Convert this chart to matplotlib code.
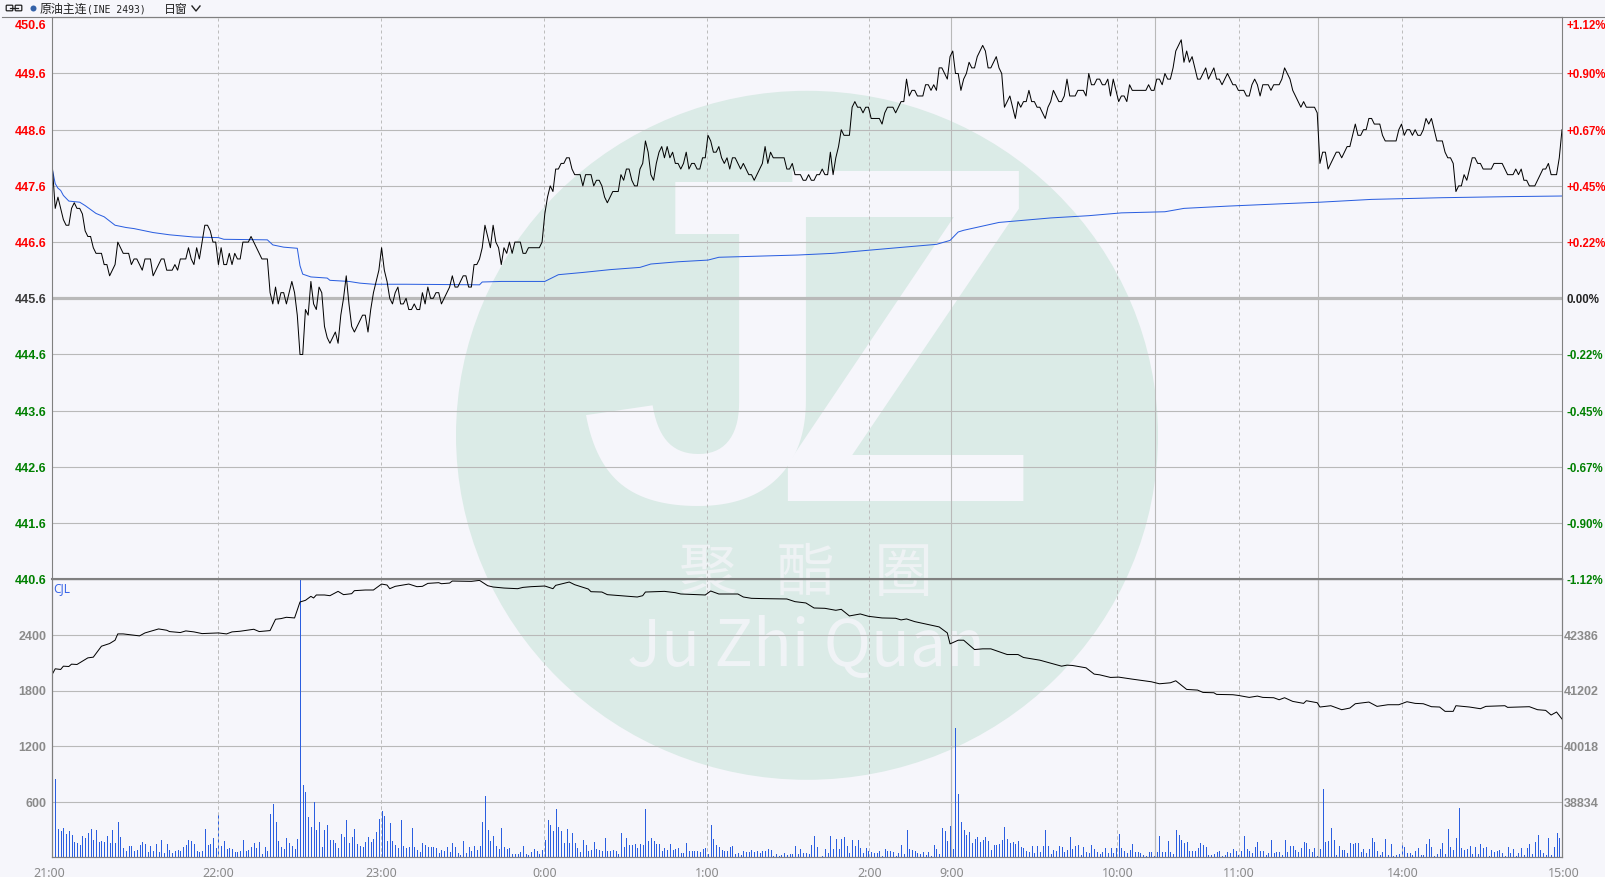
import numpy as np
import matplotlib
matplotlib.use('Agg')
import matplotlib.pyplot as plt
from matplotlib.patches import Circle, Ellipse, FancyBboxPatch
from matplotlib.transforms import ScaledTranslation

# last price per bar
price = [447.9,447.2,447.4,447.2,447.0,446.9,446.9,447.2,447.3,447.2,
         447.2,447.1,446.8,446.7,446.7,446.5,446.4,446.4,446.4,446.2,
         446.2,446.0,446.1,446.2,446.6,446.5,446.4,446.4,446.4,446.2,
         446.3,446.3,446.2,446.1,446.3,446.3,446.3,446.0,446.1,446.2,
         446.3,446.3,446.1,446.1,446.1,446.2,446.1,446.3,446.3,446.3,
         446.5,446.3,446.2,446.5,446.3,446.6,446.9,446.9,446.8,446.6,
         446.6,446.2,446.5,446.2,446.2,446.4,446.2,446.4,446.3,446.3,
         446.6,446.6,446.6,446.7,446.6,446.5,446.4,446.3,446.3,446.3,
         445.7,445.5,445.8,445.5,445.7,445.7,445.5,445.7,445.9,445.7,
         445.3,444.6,444.6,445.4,445.3,445.9,445.5,445.4,445.8,445.7,
         445.1,444.9,444.8,444.9,445.0,444.8,445.3,445.6,446.0,445.5,
         445.1,445.0,445.1,445.2,445.3,445.3,445.0,445.4,445.7,445.9,
         446.1,446.5,446.1,445.9,445.6,445.5,445.7,445.8,445.5,445.5,
         445.6,445.4,445.4,445.5,445.4,445.4,445.7,445.5,445.8,445.6,
         445.6,445.7,445.7,445.5,445.6,445.7,445.8,446.0,445.8,445.8,
         445.9,446.0,446.0,445.8,445.8,446.2,446.2,446.3,446.5,446.9,
         446.7,446.5,446.9,446.6,446.5,446.2,446.5,446.4,446.6,446.4,
         446.6,446.6,446.6,446.4,446.4,446.5,446.5,446.5,446.5,446.5,
         446.6,447.1,447.4,447.6,447.5,447.9,447.9,448.0,448.0,448.1,
         448.1,447.9,447.8,447.8,447.8,447.6,447.8,447.8,447.8,447.6,
         447.7,447.7,447.6,447.4,447.3,447.4,447.5,447.5,447.5,447.8,
         447.7,447.9,447.9,447.7,447.6,447.6,447.9,448.0,448.4,448.2,
         447.8,447.7,448.0,448.2,448.3,448.1,448.3,448.1,448.2,448.0,
         448.0,447.9,448.0,448.2,447.9,448.0,448.0,447.9,447.9,448.1,
         448.1,448.5,448.4,448.2,448.2,448.3,448.1,448.0,448.1,447.9,
         448.1,448.1,448.0,447.9,448.0,447.9,447.8,447.8,447.7,447.8,
         447.9,448.0,448.3,448.0,448.2,448.1,448.1,448.1,448.1,448.1,
         447.9,447.9,448.0,447.8,447.8,447.8,447.7,447.7,447.8,447.7,
         447.7,447.8,447.8,447.9,447.8,447.8,448.2,447.8,448.1,448.3,
         448.6,448.5,448.5,448.5,449.0,449.1,449.0,449.0,448.9,449.0,
         449.0,448.8,448.8,448.8,448.8,448.7,448.9,449.0,449.0,449.0,
         448.9,449.0,449.1,449.1,449.5,449.2,449.3,449.3,449.2,449.2,
         449.2,449.4,449.4,449.3,449.4,449.3,449.7,449.7,449.6,449.5,
         449.9,450.0,449.6,449.6,449.3,449.5,449.6,449.8,449.7,449.7,
         449.9,450.0,450.1,450.0,449.7,449.7,449.8,449.9,449.7,449.6,
         449.0,449.1,449.2,449.0,448.8,449.1,449.0,449.1,449.1,449.3,
         449.1,449.1,449.0,449.0,448.9,448.8,449.0,449.1,449.3,449.2,
         449.1,449.1,449.2,449.5,449.2,449.2,449.2,449.3,449.3,449.3,
         449.2,449.6,449.4,449.4,449.5,449.5,449.4,449.4,449.5,449.2,
         449.5,449.3,449.1,449.2,449.2,449.1,449.4,449.3,449.3,449.3,
         449.3,449.3,449.3,449.4,449.3,449.3,449.5,449.5,449.4,449.6,
         449.5,449.5,449.7,450.0,450.1,450.2,449.8,450.0,449.8,449.9,
         449.7,449.5,449.5,449.6,449.7,449.5,449.6,449.7,449.5,449.5,
         449.4,449.5,449.6,449.5,449.4,449.4,449.3,449.3,449.3,449.2,
         449.2,449.4,449.5,449.4,449.2,449.4,449.4,449.4,449.3,449.4,
         449.4,449.4,449.5,449.7,449.6,449.5,449.3,449.2,449.1,449.0,
         449.1,449.0,449.0,449.0,449.0,448.9,448.0,448.2,448.2,447.9,
         448.0,448.1,448.2,448.2,448.1,448.2,448.3,448.3,448.5,448.7,
         448.5,448.5,448.6,448.6,448.8,448.8,448.7,448.7,448.7,448.5,
         448.4,448.4,448.4,448.4,448.4,448.6,448.7,448.5,448.6,448.6,
         448.5,448.6,448.5,448.5,448.6,448.8,448.7,448.8,448.6,448.4,
         448.4,448.4,448.2,448.1,448.1,448.0,447.5,447.6,447.6,447.8,
         447.7,447.9,448.1,448.1,448.0,448.0,447.9,447.9,447.9,447.9,
         448.0,448.0,448.0,448.0,447.9,447.8,447.8,447.8,447.9,447.8,
         447.9,447.7,447.7,447.6,447.6,447.6,447.7,447.8,447.9,447.9,
         448.0,447.8,447.8,447.8,448.1,448.6]

# average price line, read at its bends
avg_minute = [0,1,2,3,4,6,10,12,16,19,23,27,30,37,43,52,61,63,79,81,85,90,91,92,
              95,101,102,109,113,118,130,157,158,165,181,186,195,205,216,220,230,
              241,245,274,287,313,325,330,333,335,348,367,381,393,409,416,432,451,
              466,485,511,537,555]
avg_price = [447.88,447.64,447.56,447.52,447.43,447.33,447.31,447.25,447.11,447.05,
             446.90,446.86,446.84,446.77,446.73,446.69,446.68,446.65,446.64,446.55,
             446.51,446.49,446.18,446.03,445.98,445.96,445.92,445.90,445.87,445.85,
             445.85,445.84,445.89,445.90,445.90,446.02,446.06,446.11,446.15,446.21,
             446.25,446.28,446.33,446.37,446.40,446.51,446.56,446.63,446.78,446.81,
             446.95,447.03,447.07,447.12,447.14,447.20,447.24,447.28,447.31,447.36,
             447.39,447.41,447.42]

# open interest (right scale of the lower panel)
oi_minute = [0,1,3,4,6,7,9,11,13,15,18,21,23,24,26,32,34,39,42,43,47,49,52,55,61,64,
             66,69,74,76,80,82,84,86,89,91,93,95,96,97,100,102,105,107,110,111,115,
             118,121,123,124,126,129,131,134,136,138,142,143,146,147,154,157,160,162,
             166,171,173,176,181,184,185,190,192,197,198,202,204,209,215,217,218,225,
             229,231,240,242,245,252,254,257,262,270,273,277,280,284,288,290,293,297,
             300,305,310,312,314,317,326,329,330,333,335,339,342,345,351,355,357,363,
             371,373,375,380,383,385,389,392,397,404,407,411,413,417,421,423,427,428,
             434,436,440,443,445,449,451,453,456,460,461,465,466,470,474,477,479,484,
             487,491,495,498,501,504,507,510,512,515,516,521,525,527,534,535,543,546,
             549,551,553,555]
oi_value = [41558,41664,41650,41720,41713,41763,41756,41827,41897,41912,42145,42202,
            42273,42407,42407,42365,42428,42513,42485,42457,42436,42471,42450,42414,
            42428,42407,42450,42464,42506,42457,42478,42719,42733,42761,42747,43087,
            43122,43207,43172,43236,43236,43221,43313,43243,43264,43328,43342,43342,
            43469,43448,43370,43420,43448,43469,43413,43420,43483,43498,43476,43490,
            43533,43526,43547,43434,43406,43384,43370,43398,43413,43427,43370,43441,
            43512,43455,43363,43306,43299,43243,43221,43193,43221,43299,43313,43285,
            43257,43236,43321,43257,43257,43193,43165,43158,43151,43094,43066,42959,
            42952,42910,42931,42790,42832,42782,42747,42740,42705,42726,42669,42556,
            42428,42195,42273,42273,42074,42089,42089,41968,41968,41905,41848,41720,
            41742,41735,41685,41551,41536,41480,41487,41444,41388,41345,41366,41409,
            41225,41211,41161,41154,41119,41112,41097,41055,41083,41055,41048,41005,
            41048,40970,40928,40984,40942,40850,40878,40793,40828,40920,40956,40864,
            40899,40899,40963,40928,40920,40857,40850,40758,40758,40878,40850,40814,
            40864,40878,40843,40857,40793,40779,40680,40744,40595]

# volume per bar, night / early / day parts, bar number of their first bar below
vol_night = [55,846,303,282,321,250,282,240,170,155,132,228,207,260,310,185,292,164,178,164,
             228,153,300,153,385,218,96,64,121,121,68,78,132,160,139,57,121,68,143,57,
             185,46,143,78,50,68,78,68,110,132,185,175,143,68,57,68,303,132,143,207,
             100,464,121,175,89,100,89,57,57,68,185,68,78,110,153,100,164,36,110,68,
             464,571,378,175,110,89,207,153,121,89,196,3000,785,700,432,325,593,292,378,110,
             292,346,185,185,153,100,250,218,400,153,218,303,143,121,110,164,218,164,196,271,
             410,496,443,175,368,175,132,100,400,121,100,110,314,110,78,57,153,132,110,110,
             110,100,46,78,68,110,57,153,110,46,25,175,46,110,68,121,78,121,378,657,
             292,175,228,121,89,314,110,89,100,36,36,36,57,121,36,25,57,89,68]
vol_mid = [36,79,186,400,346,282,518,325,282,154,303,154,261,154,100,57,186,132,68,79,
           164,89,79,68,207,68,68,79,68,36,261,111,207,132,132,143,100,143,132,518,
           175,207,175,143,143,68,100,79,143,79,89,100,46,46,154,68,68,68,68,57,
           89,100,36,346,196,132,107,79,68,68,111,121,36,46,25,68,57,57,79,57,
           68,46,68,68,89,79,14,36,18,25,46,25,36,36,121,36,89,46,46,36,
           132,228,111,0,14,89,46,228,89,196,89,196,218,121,46,186,121,186,100,46,
           100,68,54,46,46,68,14,89,68,68,54,14,46,132,36,293,89,79,68,46,
           36,57,25,57,18,132,89,36,314,282,175,336,89,1396,678,378,293,239,271,154,
           196,218,164,186,218,175,79,132,132,143,186,325,196,154,164,143,175,111,100,68,
           57,121,46,121,57,121,293,121,36,79,68,121,111,57,79,218]
vol_day = [89,121,132,25,111,57,46,132,89,57,36,57,100,46,100,46,100,250,100,68,
           46,79,143,57,57,46,25,14,57,57,14,57,228,57,57,175,57,36,293,239,
           186,154,164,68,68,68,100,154,132,111,25,25,36,57,68,14,25,57,46,89,
           68,25,68,228,89,68,46,111,164,68,68,25,46,186,46,57,57,25,186,57,
           121,121,79,57,100,164,154,89,57,100,14,89,732,164,175,314,186,25,121,79,
           79,46,154,143,154,154,57,89,46,89,207,164,68,25,57,196,25,143,14,25,
           36,132,111,46,46,25,68,100,25,25,143,196,111,14,36,89,154,36,303,111,
           79,207,528,100,79,89,121,36,111,36,143,100,111,14,79,57,68,79,46,14,
           111,46,89,14,46,100,25,100,143,36,164,239,79,46,25,207,25,111,261,207,
           228,443]
vol_starts = [0, 179, 375]

time_ticks = [0, 61, 120.8, 180.8, 240.7, 300.3, 330.5, 391.5, 436.3, 496.3, 555]
time_labels = ['21:00', '22:00', '23:00', '0:00', '1:00', '2:00', '9:00', '10:00', '11:00', '14:00', '15:00']
dashed_at = [61, 120.8, 180.8, 240.7, 300.3, 391.5, 436.3, 496.3]
solid_at = [330.5, 405.5, 465.3]

price_ticks = [450.6, 449.6, 448.6, 447.6, 446.6, 445.6, 444.6, 443.6, 442.6, 441.6, 440.6]
pct_labels = ['+1.12%', '+0.90%', '+0.67%', '+0.45%', '+0.22%', '0.00%', '-0.22%', '-0.45%', '-0.67%', '-0.90%', '-1.12%']
vol_ticks = [600, 1200, 1800, 2400]
oi_ticks = [38834, 40018, 41202, 42386]

W, H = 1606, 878
BG = '#f6f6fb'
GRID = '#b9b9b9'
AXIS = '#808080'
BLUE = '#2a5ee0'
CJK = ['Noto Sans CJK SC', 'DejaVu Sans']
LABEL = 'Liberation Sans'

fig = plt.figure(figsize=(W / 100, H / 100), dpi=100, facecolor=BG)


def add_ax(left, top, right, bottom):
    return fig.add_axes([left / W, 1 - bottom / H, (right - left) / W, (bottom - top) / H])


# watermark and header live in a full size pixel axes under the plots
back = add_ax(0, 0, W, H)
back.set_xlim(0, W)
back.set_ylim(H, 0)
back.axis('off')
back.add_patch(Ellipse((807, 436.3), 702, 689, color='#dbebe7', lw=0))
back.text(838, 501, 'J', family='Liberation Sans', weight='bold', fontsize=335, color=BG, ha='right', va='baseline')
back.text(905, 501, 'Z', family='Open Sans', weight='semibold', fontsize=332, color=BG, ha='center', va='baseline')
back.text(806, 574, '聚   酯   圈', family=CJK, fontsize=42, color='#eef2f4', ha='center', va='center')
back.text(806, 666, 'Ju Zhi Quan', family='Noto Sans CJK SC', weight='medium', fontsize=46, color='#f0f3f6',
          ha='center', va='baseline')
back.plot([2, W], [18.3, 18.3], color=AXIS, lw=0.8)

# link icon
back.add_patch(FancyBboxPatch((7, 7), 5, 4, boxstyle='round,pad=0.8', fc='none', ec='#222222', lw=0.9))
back.add_patch(FancyBboxPatch((16, 7), 5, 4, boxstyle='round,pad=0.8', fc='none', ec='#222222', lw=0.9))
back.plot([10, 18], [9, 9], color='#222222', lw=0.9)
back.add_patch(Circle((33.5, 9.5), 3, color='#3462a8', lw=0))
back.text(40, 9.5, '原油主连', family=CJK, fontsize=8.6, color='#222222', va='center')
back.text(87, 9.5, '(INE 2493)', family='DejaVu Sans Mono', fontsize=7, color='#222222', va='center')
back.text(164, 9.5, '日窗', family=CJK, fontsize=8.6, color='#222222', va='center')
back.plot([192, 196, 200], [7, 12, 7], color='#222222', lw=1)

ax_price = add_ax(52.5, 18.3, 1562, 580.3)
ax_vol = add_ax(52.5, 580.3, 1562, 858.3)
ax_oi = ax_vol.twinx()

for ax in [ax_price, ax_vol, ax_oi]:
    ax.patch.set_alpha(0)
    ax.set_xlim(0, 555)
    for s in ax.spines.values():
        s.set_color(AXIS)
        s.set_linewidth(0.8)
    for x in dashed_at:
        ax.axvline(x, color='#bdbdbd', lw=0.72, dashes=(3, 3))
    for x in solid_at:
        ax.axvline(x, color=GRID, lw=0.8)

ax_price.set_ylim(440.6, 450.6)
ax_price.set_yticks(price_ticks)
ax_price.grid(axis='y', color=GRID, lw=0.8)
ax_price.set_axisbelow(True)
ax_price.tick_params(left=False, bottom=False, labelleft=False, labelbottom=False)
ax_price.axhline(445.6, color=GRID, lw=2.3)
ax_price.axhline(440.6, color=AXIS, lw=1.5, clip_on=False)

ax_price.plot(avg_minute, avg_price, color=BLUE, lw=0.72)
ax_price.plot(np.arange(len(price)), price, color='black', lw=0.72)

ax_vol.set_ylim(0, 3000)
ax_vol.set_yticks(vol_ticks)
ax_vol.grid(axis='y', color=GRID, lw=0.8)
ax_vol.set_axisbelow(True)
ax_vol.tick_params(left=False, labelleft=False, bottom=False, pad=3, labelsize=9, labelcolor='#8a8a8a')
ax_vol.set_xticks(time_ticks)
ax_vol.set_xticklabels(time_labels, family='Noto Sans')
labs = ax_vol.get_xticklabels()
labs[0].set_transform(labs[0].get_transform() + ScaledTranslation(-3 / 100, 0, fig.dpi_scale_trans))
labs[-1].set_transform(labs[-1].get_transform() + ScaledTranslation(2 / 100, 0, fig.dpi_scale_trans))
for part, start in zip([vol_night, vol_mid, vol_day], vol_starts):
    ax_vol.vlines(start + np.arange(len(part)), 0, part, color=BLUE, lw=0.72, antialiased=False)

ax_oi.set_ylim(37650, 43570)
ax_oi.tick_params(right=False, labelright=False)
ax_oi.set_yticks([])
ax_oi.plot(oi_minute, oi_value, color='black', lw=0.72)


def price_color(p):
    if p > 445.6:
        return '#ff0000'
    if p < 445.6:
        return '#008000'
    return '#3a3a3a'


for p, pct in zip(price_ticks, pct_labels):
    dy = -8 if p == 450.6 else -1
    c = price_color(p)
    ax_price.annotate('%.1f' % p, (0, p), xycoords=('axes fraction', 'data'), xytext=(-6, dy),
                      textcoords='offset pixels', ha='right', va='center', family=LABEL,
                      weight='bold', fontsize=9, color=c, annotation_clip=False)
    ax_price.annotate(pct, (1, p), xycoords=('axes fraction', 'data'), xytext=(5, dy),
                      textcoords='offset pixels', ha='left', va='center', family=LABEL,
                      weight='bold', fontsize=8.3, color=c if p != 445.6 else '#222222', annotation_clip=False)

for v in vol_ticks:
    ax_vol.annotate(str(v), (0, v), xycoords=('axes fraction', 'data'), xytext=(-6, -1),
                    textcoords='offset pixels', ha='right', va='center', family=LABEL,
                    weight='bold', fontsize=9, color='#8a8a8a', annotation_clip=False)
for v in oi_ticks:
    ax_oi.annotate(str(v), (1, v), xycoords=('axes fraction', 'data'), xytext=(2, -1),
                   textcoords='offset pixels', ha='left', va='center', family=LABEL,
                   weight='bold', fontsize=9, color='#8a8a8a', annotation_clip=False)

ax_vol.annotate('CJL', (0, 1), xycoords='axes fraction', xytext=(1, -8), textcoords='offset pixels',
                ha='left', va='center', family='Noto Sans', fontsize=8.5, color='#3a66e8')

fig.savefig('out.png', dpi=100, facecolor=BG)
